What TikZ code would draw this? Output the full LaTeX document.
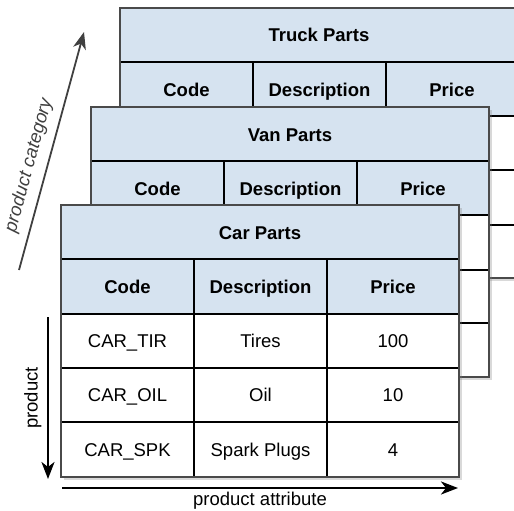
\documentclass[tikz,border=0pt]{standalone}
\usepackage{fontspec}
\setmainfont{Liberation Sans}
\usetikzlibrary{arrows.meta,shadows}
\definecolor{headblue}{HTML}{D6E3F0}
\definecolor{framegray}{HTML}{4A4A4A}
\definecolor{arrowgray}{HTML}{404040}
\tikzset{
	tablebg/.style={fill=white, drop shadow={shadow xshift=3pt, shadow yshift=-3pt, opacity=0.3}},
	headfill/.style={fill=headblue},
	gridline/.style={line width=2.5pt, black},
	frameline/.style={line width=2pt, framegray},
	headtext/.style={font=\fontsize{18.5}{21}\selectfont\bfseries, text height=13pt, text depth=0pt},
	celltext/.style={font=\fontsize{18.5}{21}\selectfont, text height=13pt, text depth=0pt},
	axislabel/.style={font=\fontsize{18.5}{21}\selectfont},
	catlabel/.style={font=\fontsize{18.5}{21}\selectfont\itshape},
	bigtip/.style={-{Stealth[length=17pt,width=13pt,inset=5pt]}}
}
\begin{document}
\begin{tikzpicture}[x=1pt,y=-1pt]
		\useasboundingbox (0,0) rectangle (514,511);
		
		% truck parts
		\path[tablebg](120,8) rectangle (518,278);
		\fill[headfill](120,8) rectangle (518,116);
		\draw[gridline](120,62)--(518,62);
		\draw[gridline](120,116)--(518,116);
		\draw[gridline](120,170)--(518,170);
		\draw[gridline](120,225)--(518,225);
		\draw[gridline](253,62)--(253,278);
		\draw[gridline](386,62)--(386,278);
		\draw[frameline](120,8) rectangle (518,278);
		\node[headtext] (truck-title) at (319,35.5) {Truck Parts};
		\node[headtext] (truck-code) at (186.5,89.5) {Code};
		\node[headtext] (truck-desc) at (319.5,89.5) {Description};
		\node[headtext] (truck-price) at (452,89.5) {Price};
		
		% van parts
		\path[tablebg](91,107) rectangle (489,377);
		\fill[headfill](91,107) rectangle (489,215);
		\draw[gridline](91,161)--(489,161);
		\draw[gridline](91,215)--(489,215);
		\draw[gridline](91,270)--(489,270);
		\draw[gridline](91,323)--(489,323);
		\draw[gridline](224,161)--(224,377);
		\draw[gridline](357,161)--(357,377);
		\draw[frameline](91,107) rectangle (489,377);
		\node[headtext] (van-title) at (290,134.5) {Van Parts};
		\node[headtext] (van-code) at (157.5,188.5) {Code};
		\node[headtext] (van-desc) at (290.5,188.5) {Description};
		\node[headtext] (van-price) at (423,188.5) {Price};
		
		% car parts
		\path[tablebg](61,205) rectangle (459,477);
		\fill[headfill](61,205) rectangle (459,314);
		\draw[gridline](61,259)--(459,259);
		\draw[gridline](61,314)--(459,314);
		\draw[gridline](61,368)--(459,368);
		\draw[gridline](61,422)--(459,422);
		\draw[gridline](194,259)--(194,477);
		\draw[gridline](327,259)--(327,477);
		\draw[frameline](61,205) rectangle (459,477);
		\node[headtext] (car-title) at (260,232.5) {Car Parts};
		\node[headtext] (car-code) at (127.5,287) {Code};
		\node[headtext] (car-desc) at (260.5,287) {Description};
		\node[headtext] (car-price) at (393,287) {Price};
		\node[celltext] (tir-code) at (127.5,341) {CAR\_TIR};
		\node[celltext] (tir-desc) at (260.5,341) {Tires};
		\node[celltext] (tir-price) at (393,341) {100};
		\node[celltext] (oil-code) at (127.5,395) {CAR\_OIL};
		\node[celltext] (oil-desc) at (260.5,395) {Oil};
		\node[celltext] (oil-price) at (393,395) {10};
		\node[celltext] (spk-code) at (127.5,449.5) {CAR\_SPK};
		\node[celltext] (spk-desc) at (260.5,449.5) {Spark Plugs};
		\node[celltext] (spk-price) at (393,449.5) {4};
		
		% axes
		\coordinate (cat-tail) at (19,270);
		\coordinate (cat-head) at (84,32);
		\coordinate (prod-tail) at (48,317);
		\coordinate (prod-head) at (48,479);
		\coordinate (attr-tail) at (62,488);
		\coordinate (attr-head) at (458,488);
		
		\draw[line width=1.8pt, arrowgray, bigtip](cat-tail)--
		node[catlabel, sloped, above=5pt, pos=0.42] (cat-label) {product category}(cat-head);
		\draw[line width=2.5pt, black, bigtip](prod-tail)--(prod-head);
		\path(prod-head)--node[axislabel, sloped, above=3pt] (prod-label) {product}(prod-tail);
		\draw[line width=2.5pt, black, bigtip](attr-tail)--
		node[axislabel, below] (attr-label) {product attribute}(attr-head);
\end{tikzpicture}
\end{document}
